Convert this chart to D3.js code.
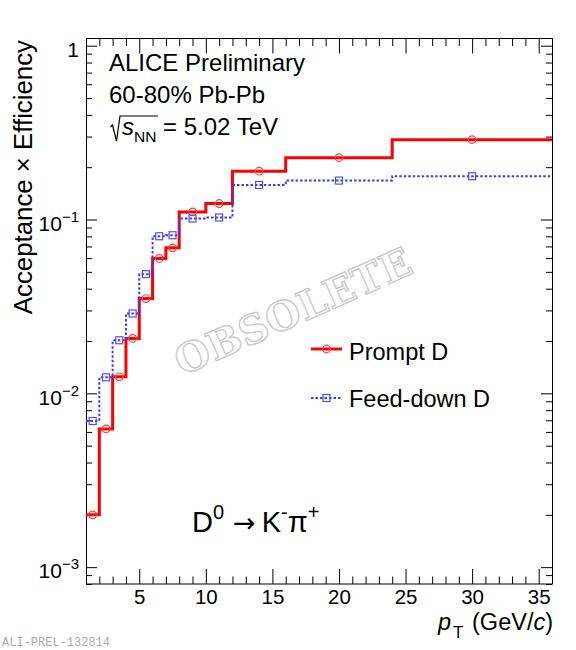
<!DOCTYPE html>
<html>
<head>
<meta charset="utf-8">
<script src="https://cdn.jsdelivr.net/npm/d3@7"></script>
<style>
  body { margin: 0; background: #fff; }
  text { font-family: "Liberation Sans", Arial, Helvetica, sans-serif; fill: #000; }
</style>
</head>
<body>
<script>
// bin edges in pT (GeV/c), 12 bins
var ptEdges = [1, 2, 3, 4, 5, 6, 7, 8, 10, 12, 16, 24, 36];
// acceptance x efficiency per bin
var promptEff   = [0.00200, 0.00624, 0.01245, 0.0207, 0.0351, 0.0597, 0.0687, 0.1106, 0.1236, 0.1897, 0.227, 0.288];
var feeddownEff = [0.00693, 0.01236, 0.0202, 0.0288, 0.0485, 0.0801, 0.0812, 0.1013, 0.1027, 0.158, 0.1675, 0.1774];
var xTickValues = [5, 10, 15, 20, 25, 30, 35];
var yTickValues = [0.001, 0.01, 0.1, 1];
var legendNames = ['Prompt D', 'Feed-down D'];

;(function() {
  var W = 576, H = 650;
  var left = 86, right = 552, top = 38.5, bottom = 584;

  var svg = d3.select('body').append('svg')
    .attr('width', W)
    .attr('height', H);

  var x = d3.scaleLinear().domain([1, 36]).range([left, right]);
  var y = d3.scaleLog().domain([0.0008, 1.1]).range([bottom, top]);

  // minor tick positions
  var xMinor = d3.range(2, 36).filter(function(v) { return v % 5 !== 0; });
  var yMinor = [];
  for (var e = -4; e <= 0; e++) {
    for (var k = 2; k <= 9; k++) {
      var v = k * Math.pow(10, e);
      if (v >= 0.0008 && v <= 1.1) yMinor.push(v);
    }
  }

  var tidy = function(g) {
    g.select('.domain').remove();
    g.selectAll('.tick line').attr('stroke', '#000').attr('stroke-width', 1);
  };

  // watermark goes under everything
  svg.append('text')
    .attr('transform', 'translate(293,311) rotate(-24)')
    .attr('text-anchor', 'middle')
    .attr('dy', '0.36em')
    .style('font-family', '"DejaVu Serif", "Liberation Serif", serif')
    .style('font-weight', 'bold')
    .style('font-size', '40px')
    .style('letter-spacing', '0.5px')
    .style('fill', 'none')
    .style('stroke', '#c8c8c8')
    .style('stroke-width', 1.3)
    .text('OBSOLETE');

  // x axis, bottom + top
  var xb = svg.append('g')
    .attr('transform', 'translate(0,' + bottom + ')')
    .call(d3.axisBottom(x).tickValues(xTickValues).tickSizeInner(-15).tickSizeOuter(0)
      .tickPadding(5.5).tickFormat(d3.format('d')));
  xb.call(tidy);
  xb.selectAll('text').style('font-size', '20.5px');

  svg.append('g')
    .attr('transform', 'translate(0,' + bottom + ')')
    .call(d3.axisBottom(x).tickValues(xMinor).tickSizeInner(-7.5).tickSizeOuter(0).tickFormat(''))
    .call(tidy);

  svg.append('g')
    .attr('transform', 'translate(0,' + top + ')')
    .call(d3.axisTop(x).tickValues(xTickValues).tickSizeInner(-15).tickSizeOuter(0).tickFormat(''))
    .call(tidy);
  svg.append('g')
    .attr('transform', 'translate(0,' + top + ')')
    .call(d3.axisTop(x).tickValues(xMinor).tickSizeInner(-7.5).tickSizeOuter(0).tickFormat(''))
    .call(tidy);

  // y axis, left + right
  var yl = svg.append('g')
    .attr('transform', 'translate(' + left + ',0)')
    .call(d3.axisLeft(y).tickValues(yTickValues).tickSizeInner(-11).tickSizeOuter(0).tickPadding(7));
  yl.call(tidy);
  yl.selectAll('.tick text')
    .style('font-size', '21px')
    .attr('dy', '0.51em')
    .each(function(d) {
      var t = d3.select(this);
      var p = Math.round(Math.log10(d));
      t.text('');
      if (p === 0) {
        t.text('1');
      } else {
        t.append('tspan').text('10');
        t.append('tspan').attr('dy', '-0.6em').style('font-size', '15px').text('\u2212' + (-p));
      }
    });

  svg.append('g')
    .attr('transform', 'translate(' + left + ',0)')
    .call(d3.axisLeft(y).tickValues(yMinor).tickSizeInner(-6).tickSizeOuter(0).tickFormat(''))
    .call(tidy);
  svg.append('g')
    .attr('transform', 'translate(' + right + ',0)')
    .call(d3.axisRight(y).tickValues(yTickValues).tickSizeInner(-11).tickSizeOuter(0).tickFormat(''))
    .call(tidy);
  svg.append('g')
    .attr('transform', 'translate(' + right + ',0)')
    .call(d3.axisRight(y).tickValues(yMinor).tickSizeInner(-6).tickSizeOuter(0).tickFormat(''))
    .call(tidy);

  svg.append('rect')
    .attr('x', left + 0.5)
    .attr('y', top)
    .attr('width', right - left)
    .attr('height', bottom - top)
    .attr('fill', 'none')
    .attr('stroke', '#000')
    .attr('stroke-width', 1);

  // histograms
  var stepLine = d3.line()
    .x(function(d) { return x(d[0]); })
    .y(function(d) { return y(d[1]); })
    .curve(d3.curveStepAfter);

  var histPoints = function(vals) {
    var pts = vals.map(function(v, i) { return [ptEdges[i], v]; });
    pts.push([ptEdges[ptEdges.length - 1], vals[vals.length - 1]]);
    return pts;
  };
  var centers = ptEdges.slice(0, -1).map(function(lo, i) { return (lo + ptEdges[i + 1]) / 2; });

  var plot = svg.append('g');

  plot.append('path')
    .attr('d', stepLine(histPoints(promptEff)))
    .attr('fill', 'none')
    .attr('stroke', '#ff0000')
    .attr('stroke-width', 3);

  plot.selectAll('circle.prompt')
    .data(promptEff)
    .enter()
    .append('circle')
    .attr('class', 'prompt')
    .attr('cx', function(d, i) { return x(centers[i]); })
    .attr('cy', function(d) { return y(d); })
    .attr('r', 3.8)
    .attr('fill', 'none')
    .attr('stroke', '#ff4040')
    .attr('stroke-width', 1.2);

  plot.append('path')
    .attr('d', stepLine(histPoints(feeddownEff)))
    .attr('fill', 'none')
    .attr('stroke', '#3a3aff')
    .attr('stroke-width', 2)
    .attr('stroke-dasharray', '2.5,2');

  plot.selectAll('rect.fd')
    .data(feeddownEff)
    .enter()
    .append('rect')
    .attr('class', 'fd')
    .attr('x', function(d, i) { return x(centers[i]) - 3.5; })
    .attr('y', function(d) { return y(d) - 3.5; })
    .attr('width', 7)
    .attr('height', 7)
    .attr('fill', 'none')
    .attr('stroke', '#4d4dff')
    .attr('stroke-width', 1.2);

  // legend
  var leg = svg.append('g');
  leg.append('line').attr('x1', 311).attr('x2', 342).attr('y1', 349).attr('y2', 349)
    .attr('stroke', '#ff0000').attr('stroke-width', 3);
  leg.append('circle').attr('cx', 326.5).attr('cy', 349).attr('r', 3.8)
    .attr('fill', 'none').attr('stroke', '#ff4040').attr('stroke-width', 1.2);
  leg.append('line').attr('x1', 311).attr('x2', 342).attr('y1', 398).attr('y2', 398)
    .attr('stroke', '#3a3aff').attr('stroke-width', 2).attr('stroke-dasharray', '2.5,2');
  leg.append('rect').attr('x', 323).attr('y', 394.5).attr('width', 7).attr('height', 7)
    .attr('fill', 'none').attr('stroke', '#4d4dff').attr('stroke-width', 1.2);
  leg.selectAll('text.leg')
    .data(legendNames)
    .enter()
    .append('text')
    .attr('class', 'leg')
    .attr('x', 349)
    .attr('y', function(d, i) { return 360 + i * 47; })
    .style('font-size', '23.5px')
    .text(function(d) { return d; });

  // labels
  svg.append('text').attr('x', 109).attr('y', 71).style('font-size', '24px').text('ALICE Preliminary');
  svg.append('text').attr('x', 109).attr('y', 103).style('font-size', '24px').text('60-80% Pb-Pb');

  svg.append('path')
    .attr('d', 'M110.5,127 L112.5,125 L116.5,141 L120,116 L158,116')
    .attr('fill', 'none')
    .attr('stroke', '#000')
    .attr('stroke-width', 1.2);
  var sq = svg.append('text').attr('x', 122).attr('y', 135).style('font-size', '24px');
  sq.append('tspan').style('font-style', 'italic').text('s');
  sq.append('tspan').attr('dy', 6.5).style('font-size', '15.5px').text('NN');
  sq.append('tspan').attr('dy', -6.5).text(' = 5.02 TeV');

  var dk = svg.append('text').attr('x', 192).attr('y', 532).style('font-size', '29px');
  dk.append('tspan').text('D');
  dk.append('tspan').attr('dy', -13).style('font-size', '20px').text('0');
  dk.append('tspan').attr('dy', 13).attr('dx', 9)
    .style('font-family', '"DejaVu Sans", sans-serif').style('font-size', '27px').text('\u2192');
  dk.append('tspan').attr('dx', 6).text('K');
  dk.append('tspan').attr('dy', -13).style('font-size', '20px').text('-');
  dk.append('tspan').attr('dy', 13).text('\u03c0');
  dk.append('tspan').attr('dy', -13).style('font-size', '20px').text('+');

  svg.append('text')
    .attr('transform', 'translate(32,40) rotate(-90)')
    .attr('text-anchor', 'end')
    .style('font-size', '25.8px')
    .text('Acceptance \u00d7 Efficiency');

  var xt = svg.append('text')
    .attr('x', 553)
    .attr('y', 630)
    .attr('text-anchor', 'end')
    .style('font-size', '23.5px');
  xt.append('tspan').style('font-style', 'italic').text('p');
  xt.append('tspan').attr('dy', 8).attr('dx', 2).style('font-size', '17px').text('T');
  xt.append('tspan').attr('dy', -8).attr('dx', 2).text(' (GeV/');
  xt.append('tspan').style('font-style', 'italic').text('c');
  xt.append('tspan').text(')');

  svg.append('text')
    .attr('x', 2)
    .attr('y', 646)
    .style('font-family', '"Liberation Mono", "Courier New", monospace')
    .style('font-size', '12px')
    .style('fill', '#aaa')
    .text('ALI-PREL-132814');
})();
</script>
</body>
</html>
